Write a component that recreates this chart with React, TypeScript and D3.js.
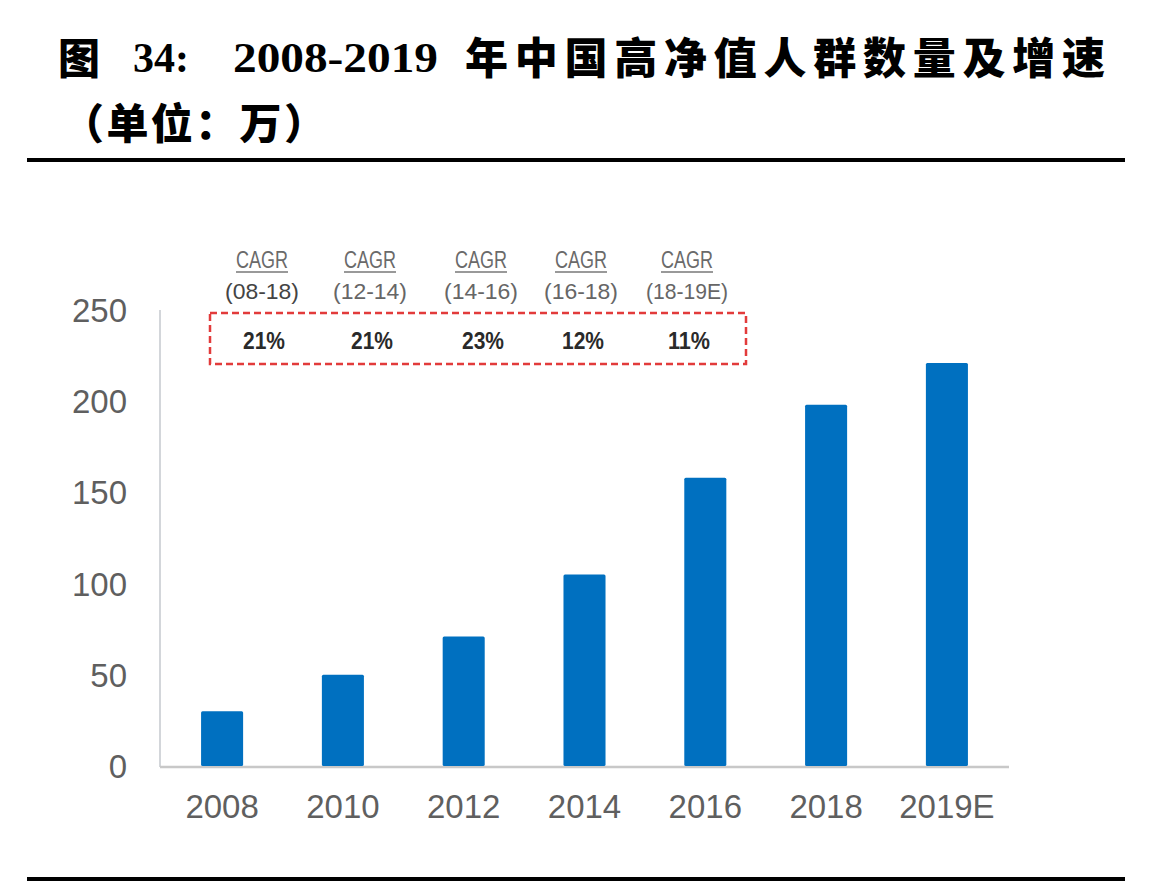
import React from "react";
import * as d3 from "d3";

const categories = ["2008", "2010", "2012", "2014", "2016", "2018", "2019E"];
const values = [30, 50, 71, 105, 158, 198, 221];
const yTicks = [0, 50, 100, 150, 200, 250];
const cagrPeriods = ["(08-18)", "(12-14)", "(14-16)", "(16-18)", "(18-19E)"];
const cagrValues = ["21%", "21%", "23%", "12%", "11%"];
const cagrCenters = [262, 370, 481, 581, 687];

const W = 1176;
const H = 884;

export default function App() {
  const x = d3
    .scaleBand<string>()
    .domain(categories)
    .range([160, 1009])
    .paddingInner(0.652)
    .paddingOuter(0.34);
  const y = d3.scaleLinear().domain([0, 250]).range([766, 310]);

  const sans = "'Liberation Sans', Arial, sans-serif";
  const cjk = "'Noto Sans CJK SC', sans-serif";
  const serif = "'Liberation Serif', 'Times New Roman', serif";

  return (
    <svg
      width={W}
      height={H}
      viewBox={`0 0 ${W} ${H}`}
      style={{ position: "absolute", left: 0, top: 0, background: "#fff" }}
    >
      <rect x={0} y={0} width={W} height={H} fill="#fff" />
      {/* Title */}
      <text x={58} y={74} fontFamily={cjk} fontWeight={900} fontSize={42} fill="#000">
        图
      </text>
      <text x={133} y={72} fontFamily={serif} fontWeight={700} fontSize={42} fill="#000">
        34:
      </text>
      <text
        x={233}
        y={72}
        fontFamily={serif}
        fontWeight={700}
        fontSize={42}
        fill="#000"
        textLength={205}
        lengthAdjust="spacingAndGlyphs"
      >
        2008-2019
      </text>
      <text
        x={465}
        y={74}
        fontFamily={cjk}
        fontWeight={900}
        fontSize={43}
        fill="#000"
        textLength={640}
        lengthAdjust="spacing"
      >
        年中国高净值人群数量及增速
      </text>
      <text
        x={62}
        y={139}
        fontFamily={cjk}
        fontWeight={900}
        fontSize={42}
        fill="#000"
        textLength={264}
        lengthAdjust="spacing"
      >
        （单位：万）
      </text>
      <line x1={27} x2={1125} y1={160} y2={160} stroke="#000" strokeWidth={4} />
      <line x1={27} x2={1125} y1={879} y2={879} stroke="#000" strokeWidth={4} />

      {/* Axes */}
      <line x1={160} x2={160} y1={y(250)} y2={767} stroke="#d3d6da" strokeWidth={2} />
      <line x1={160} x2={1009} y1={767} y2={767} stroke="#c8c8c8" strokeWidth={2.5} />
      {yTicks.map((t) => (
        <text
          key={t}
          x={127}
          y={y(t) + 12}
          textAnchor="end"
          fontFamily={sans}
          fontSize={33}
          fill="#5f5f5f"
        >
          {t}
        </text>
      ))}
      {categories.map((c) => (
        <text
          key={c}
          x={(x(c) as number) + x.bandwidth() / 2}
          y={818}
          textAnchor="middle"
          fontFamily={sans}
          fontSize={33}
          fill="#5f5f5f"
        >
          {c}
        </text>
      ))}

      {/* Bars */}
      {categories.map((c, i) => (
        <rect
          key={c}
          x={x(c) as number}
          y={y(values[i])}
          width={x.bandwidth()}
          height={y(0) - y(values[i])}
          fill="#0070c0"
          rx={1.5}
        />
      ))}

      {/* CAGR annotations */}
      {cagrPeriods.map((p, i) => (
        <g key={p}>
          <text
            x={cagrCenters[i]}
            y={268}
            textAnchor="middle"
            fontFamily={sans}
            fontSize={23}
            fill="#6a6a6a"
            textLength={52}
            lengthAdjust="spacingAndGlyphs"
          >
            CAGR
          </text>
          <line
            x1={cagrCenters[i] - 26}
            x2={cagrCenters[i] + 26}
            y1={272}
            y2={272}
            stroke="#777"
            strokeWidth={1.5}
          />
          <text
            x={cagrCenters[i]}
            y={299}
            textAnchor="middle"
            fontFamily={sans}
            fontSize={22}
            fill={i === 0 ? "#444" : "#666"}
            textLength={p.length > 7 ? 82 : 74}
            lengthAdjust="spacingAndGlyphs"
          >
            {p}
          </text>
          <text
            x={cagrCenters[i] + 2}
            y={349}
            textAnchor="middle"
            fontFamily={sans}
            fontWeight={700}
            fontSize={24}
            fill="#2a2a2a"
            textLength={42}
            lengthAdjust="spacingAndGlyphs"
          >
            {cagrValues[i]}
          </text>
        </g>
      ))}
      <rect
        x={210}
        y={313}
        width={536}
        height={51}
        fill="none"
        stroke="#e23b3b"
        strokeWidth={2.5}
        strokeDasharray="7 4"
      />
    </svg>
  );
}
